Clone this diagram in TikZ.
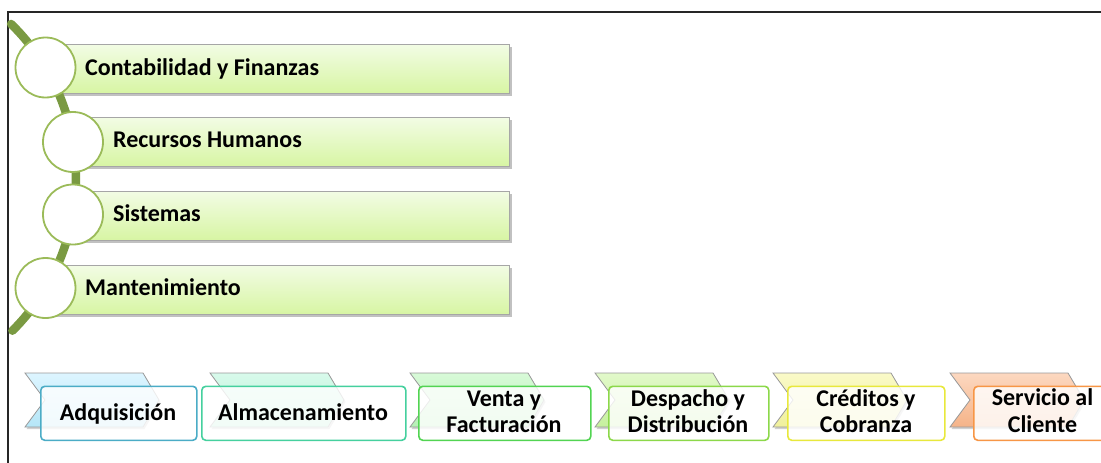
\documentclass[tikz,border=0pt]{standalone}
\usepackage{fontspec}
\setmainfont{Carlito}
\usetikzlibrary{shadows}
\definecolor{barA}{HTML}{F2FCE4}
\definecolor{barB}{HTML}{D7F5A3}
\definecolor{ringc}{HTML}{9BBB59}
\definecolor{arcc}{HTML}{7A9A42}
\definecolor{bA}{HTML}{4BACC6}
\definecolor{bB}{HTML}{45D09E}
\definecolor{bC}{HTML}{52D452}
\definecolor{bD}{HTML}{8CD84A}
\definecolor{bE}{HTML}{E8E83C}
\definecolor{bF}{HTML}{F79646}
\definecolor{cA1}{HTML}{DDF5FF}\definecolor{cA2}{HTML}{B5E6F7}
\definecolor{cB1}{HTML}{D8FAEB}\definecolor{cB2}{HTML}{B5F0D5}
\definecolor{cC1}{HTML}{D8FAD8}\definecolor{cC2}{HTML}{B5F0B5}
\definecolor{cD1}{HTML}{E2F9CA}\definecolor{cD2}{HTML}{C6F09E}
\definecolor{cE1}{HTML}{FAFAC8}\definecolor{cE2}{HTML}{F0F09C}
\definecolor{cF1}{HTML}{FCD8C0}\definecolor{cF2}{HTML}{F5B388}
\begin{document}
\begin{tikzpicture}[x=1pt,y=-1pt,
  bar/.style={draw=black!35, line width=1.2pt, top color=barA, bottom color=barB,
    minimum height=49pt, inner sep=0pt, anchor=north west,
    drop shadow={shadow xshift=2.5pt, shadow yshift=-2.5pt, opacity=0.35, fill=black!70}},
  ring/.style={circle, draw=ringc, line width=1.8pt, fill=white, minimum size=60pt, inner sep=0pt},
  arcline/.style={draw=arcc, line width=8.5pt, line cap=round},
  frameline/.style={draw=black!85, line width=2pt},
  lbl/.style={font=\fontsize{24}{26}\selectfont\bfseries, inner sep=0pt, anchor=base west},
  clbl/.style={font=\fontsize{24}{26}\selectfont\bfseries, inner sep=0pt, anchor=base},
  chev/.style={draw=black!40, line width=0.8pt,
    drop shadow={shadow xshift=1.5pt, shadow yshift=-2pt, opacity=0.3, fill=black!60}},
  stepbox/.style={rounded corners=4pt, line width=1.6pt, fill=white, fill opacity=0.82,
    minimum height=54pt, inner sep=0pt, anchor=north west}
]
\useasboundingbox (0,0) rectangle (1101,463);
% frame
\draw[frameline] (8,463) -- (8,12) -- (1101,12);
% bars
\node[bar, minimum width=463.5pt] (r1) at (45.5,44) {};
\node[bar, minimum width=436pt] (r2) at (73,117) {};
\node[bar, minimum width=436pt] (r3) at (73,191) {};
\node[bar, minimum width=463.5pt] (r4) at (45.5,265) {};
% arc
\draw[arcline, domain=-45.7:45.2, samples=60, variable=\t]
  plot ({-139.2+215.2*cos(\t)}, {178+215.2*sin(\t)});
% rings
\node[ring] (c1) at (45.5,67.5) {};
\node[ring] (c2) at (73,142) {};
\node[ring] (c3) at (73,214.5) {};
\node[ring] (c4) at (45.5,288) {};
% bar labels
\node[lbl] (l1) at (85,75) {Contabilidad y Finanzas};
\node[lbl] (l2) at (113,147.3) {Recursos Humanos};
\node[lbl] (l3) at (113,221.7) {Sistemas};
\node[lbl] (l4) at (85,295.7) {Mantenimiento};
% chevrons
\foreach \x/\ca/\cb in {25/cA1/cA2, 210/cB1/cB2, 410/cC1/cC2, 595/cD1/cD2, 773/cE1/cE2, 950/cF1/cF2}{
  \path[chev, top color=\ca, bottom color=\cb] (\x,373) -- ++(118,0) -- ++(16,27) -- ++(-16,27) -- ++(-118,0) -- ++(20,-27) -- cycle;
}
% step boxes
\node[stepbox, draw=bA, minimum width=156pt] (s1) at (40,385.5) {};
\node[stepbox, draw=bB, minimum width=204pt] (s2) at (201,385.5) {};
\node[stepbox, draw=bC, minimum width=172pt] (s3) at (418,385.5) {};
\node[stepbox, draw=bD, minimum width=160pt] (s4) at (608,385.5) {};
\node[stepbox, draw=bE, minimum width=157pt] (s5) at (787,385.5) {};
\node[stepbox, draw=bF, minimum width=139pt] (s6) at (973,385.5) {};
% step labels
\node[clbl] (t1) at (118,420) {Adquisición};
\node[clbl] (t2) at (303,420) {Almacenamiento};
\node[clbl] (t3a) at (504,406.5) {Venta y};
\node[clbl] (t3b) at (504,432.5) {Facturación};
\node[clbl] (t4a) at (688,406.5) {Despacho y};
\node[clbl] (t4b) at (688,432.5) {Distribución};
\node[clbl] (t5a) at (866,406) {Créditos y};
\node[clbl] (t5b) at (866,432) {Cobranza};
\node[clbl] (t6a) at (1042.5,405.5) {Servicio al};
\node[clbl] (t6b) at (1042.5,432) {Cliente};
\end{tikzpicture}
\end{document}
